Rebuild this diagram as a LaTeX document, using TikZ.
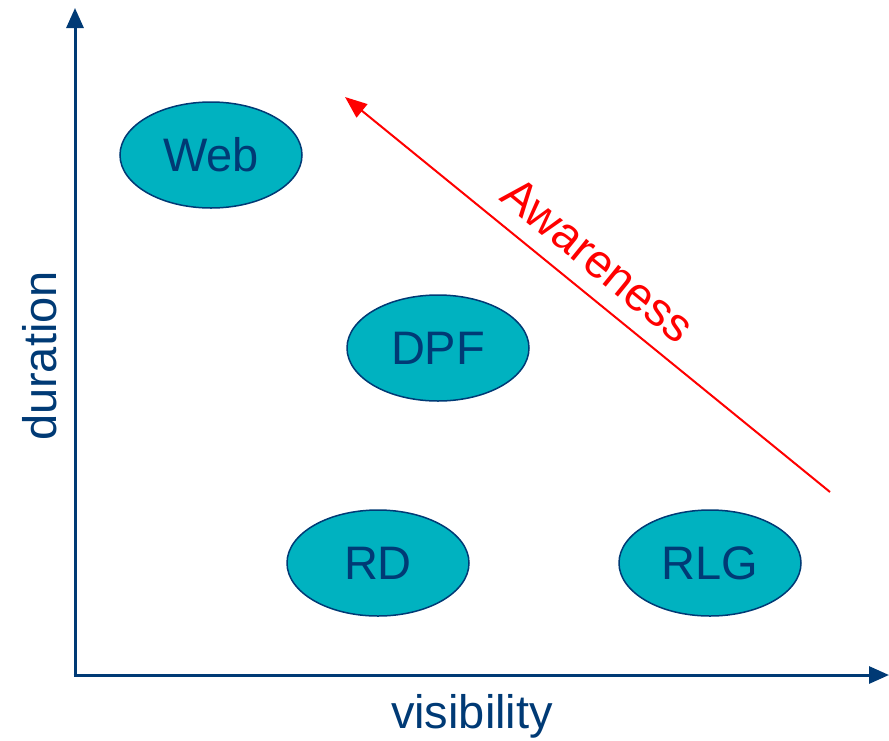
\documentclass[tikz,border=0pt]{standalone}
\usepackage{fontspec}
\setmainfont{Liberation Sans}
\usetikzlibrary{positioning,shapes.geometric,arrows.meta}
\definecolor{axisblue}{RGB}{0,58,117}
\definecolor{tealfill}{RGB}{0,178,192}

\begin{document}
\begin{tikzpicture}[
    x=1pt, y=-1pt,
    blob/.style={ellipse, draw=axisblue, line width=1.5pt, fill=tealfill, minimum width=182pt, minimum height=106pt, text=axisblue, font=\fontsize{47}{56}\selectfont, inner sep=0pt},
    axis/.style={draw=axisblue, line width=3pt, -{Triangle[length=20pt, width=17pt]}}, % Axis arrows
    trend/.style={draw=red, line width=2pt, -{Triangle[length=22pt, width=17pt]}},
    axislabel/.style={text=axisblue, font=\fontsize{47}{56}\selectfont}
]
    \useasboundingbox (0,0) rectangle (889,740);

    % Axes
    \coordinate (origin) at (75,675);
    \coordinate (ytop) at (75,8);
    \coordinate (xend) at (889,675);
    \path [axis] (origin) -- (ytop);
    \path [axis] ([xshift=-1.5pt]origin) -- (xend);
    \node (ylabel) [axislabel, rotate=90] at (40,356) {duration};
    \node (xlabel) [axislabel] at (472,716) {visibility};

    % Nodes
    \node (web) [blob] at (211,155) {Web};
    \node (dpf) [blob] at (438,348) {DPF};
    \node (rd) [blob] at (378,563) {RD};
    \node (rlg) [blob] at (710,563) {RLG};

    % Awareness arrow
    \coordinate (low) at (830,492);
    \coordinate (high) at (345,97);
    \path [trend] (low) -- (high);
    \node (aware) [text=red, font=\fontsize{47}{56}\selectfont, rotate=-39.2] at (598,260) {Awareness};

\end{tikzpicture}
\end{document}
